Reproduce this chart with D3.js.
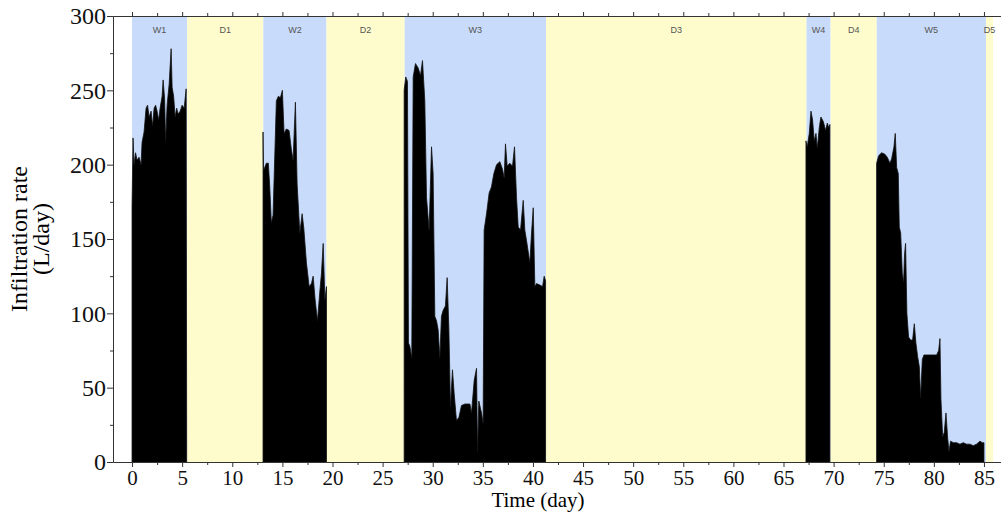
<!DOCTYPE html>
<html>
<head>
<meta charset="utf-8">
<script src="https://cdn.jsdelivr.net/npm/d3@7"></script>
<style>
  body { margin: 0; background: #fff; }
  svg { display: block; }
</style>
</head>
<body>
<svg id="chart" width="1001" height="518"></svg>
<script>
(function() {

    // wet / dry periods (days)
    var periodNames = ["W1", "D1", "W2", "D2", "W3", "D3", "W4", "D4", "W5", "D5"];
    var periodStart = [0, 5.5, 13.1, 19.4, 27.2, 41.3, 67.3, 69.7, 74.3, 85.2];
    var periodEnd   = [5.5, 13.1, 19.4, 27.2, 41.3, 67.3, 69.7, 74.3, 85.2, 85.9];

    // infiltration rate (L/day), [day, rate]
    var w1 = [[0.0,172],[0.1,218],[0.2,200],[0.35,208],[0.5,203],[0.7,205],[0.9,200],[1.0,215],
              [1.2,222],[1.4,238],[1.55,240],[1.7,232],[1.9,236],[2.05,226],[2.2,238],[2.35,240],
              [2.5,236],[2.65,230],[2.8,238],[3.0,246],[3.1,257],[3.25,244],[3.35,216],[3.5,240],
              [3.7,254],[3.9,278],[4.0,252],[4.15,246],[4.3,232],[4.45,238],[4.6,234],[4.8,236],
              [5.0,240],[5.2,238],[5.4,251],[5.45,13]];
    var w2 = [[13.07,222],[13.12,196],[13.4,201],[13.6,201],[13.74,185],[13.9,161],[14.07,166],
              [14.4,243],[14.6,246],[14.8,245],[15.0,250],[15.17,221],[15.4,224],[15.67,223],
              [15.9,210],[16.07,203],[16.3,242],[16.47,187],[16.74,154],[16.97,167],[17.14,157],
              [17.4,134],[17.67,118],[17.9,120],[18.07,125],[18.27,109],[18.5,95],[18.74,115],
              [18.9,127],[19.07,147],[19.24,109],[19.4,118]];
    var w3 = [[27.15,250],[27.31,259],[27.48,256],[27.58,80],[27.71,78],[27.91,70],[28.05,259],
              [28.28,268],[28.55,265],[28.78,260],[28.98,270],[29.21,243],[29.38,178],[29.64,156],
              [29.88,212],[30.04,194],[30.21,98],[30.38,95],[30.54,89],[30.71,70],[30.87,98],
              [31.04,102],[31.27,105],[31.44,124],[31.61,90],[31.77,37],[31.97,62],[32.14,46],
              [32.37,28],[32.61,30],[32.87,38],[33.21,39],[33.71,39],[33.87,33],[34.14,55],
              [34.37,63],[34.47,7],[34.6,41],[34.87,33],[35.03,26],[35.13,156],[35.37,167],
              [35.63,181],[35.86,185],[36.1,194],[36.37,200],[36.7,202],[36.96,197],[37.13,191],
              [37.26,214],[37.43,199],[37.69,201],[37.96,199],[38.16,212],[38.36,178],[38.53,158],
              [38.76,156],[39.03,176],[39.19,156],[39.36,149],[39.69,134],[39.86,154],[40.03,171],
              [40.19,118],[40.36,120],[40.69,119],[40.96,118],[41.12,125],[41.26,122]];
    var w4 = [[67.24,216],[67.37,212],[67.57,221],[67.74,236],[67.9,230],[68.07,216],[68.24,221],
              [68.37,211],[68.57,225],[68.73,232],[68.97,229],[69.2,223],[69.37,228],[69.5,225],
              [69.63,227]];
    var w5 = [[74.29,201],[74.49,206],[74.79,208],[75.12,207],[75.35,205],[75.62,201],[75.79,204],
              [76.02,212],[76.15,221],[76.29,198],[76.45,194],[76.55,158],[76.69,154],[76.85,127],
              [76.98,121],[77.08,140],[77.18,147],[77.31,100],[77.48,84],[77.68,82],[77.88,82],
              [78.05,93],[78.21,80],[78.38,71],[78.55,64],[78.68,43],[78.85,69],[79.01,72],
              [79.28,72],[79.61,72],[79.95,72],[80.28,72],[80.48,75],[80.61,83],[80.71,42],
              [80.88,17],[81.04,20],[81.21,33],[81.38,16],[81.51,7],[81.67,14],[81.94,13],
              [82.27,13],[82.6,12],[82.93,13],[83.27,12],[83.6,12],[83.93,11],[84.26,12],
              [84.6,14],[84.83,13],[85.0,13]];
    var wetSeries = [w1, w2, w3, w4, w5];

    var xMajor = d3.range(0, 86, 5);
    var xMinor = d3.range(2.5, 86, 5);
    var yMajor = [0, 50, 100, 150, 200, 250, 300];
    var yMinor = [25, 75, 125, 175, 225, 275];

    var svg = d3.select("#chart");

    var x = d3.scaleLinear().domain([-1.9, 86.7]).range([113, 1001]);
    var y = d3.scaleLinear().domain([0, 300]).range([462, 16]);

    // background bands
    svg.append("g").selectAll("rect")
        .data(periodNames)
        .join("rect")
        .attr("x", function(d, i) { return x(periodStart[i]); })
        .attr("y", y(300))
        .attr("width", function(d, i) { return x(periodEnd[i]) - x(periodStart[i]); })
        .attr("height", y(0) - y(300))
        .attr("fill", function(d) { return d[0] == "W" ? "#c8dbfa" : "#fefccd"; });

    svg.append("g").selectAll("text")
        .data(periodNames)
        .join("text")
        .attr("x", function(d, i) { return (x(periodStart[i]) + x(periodEnd[i])) / 2; })
        .attr("y", 33)
        .attr("text-anchor", "middle")
        .style("font-family", "Arial, 'Liberation Sans', sans-serif")
        .style("font-size", "9px")
        .style("fill", "#555")
        .text(function(d) { return d; });

    // black infiltration areas
    var area = d3.area()
        .x(function(d) { return x(d[0]); })
        .y0(y(0))
        .y1(function(d) { return y(d[1]); });

    svg.append("g").selectAll("path")
        .data(wetSeries)
        .join("path")
        .attr("d", function(d) {
            // close down to zero at both ends of each wet period
            var pts = [[d[0][0], 0]].concat(d, [[d[d.length - 1][0], 0]]);
            return area(pts);
        })
        .attr("fill", "#000")
        .attr("stroke", "#111")
        .attr("stroke-width", 0.8);

    // axes
    var font = "'Liberation Serif', 'Times New Roman', serif";

    var yAxis = svg.append("g")
        .attr("transform", "translate(113,0)")
        .call(d3.axisLeft(y).tickValues(yMajor).tickSize(6).tickPadding(1));
    svg.append("g")
        .attr("transform", "translate(113,0)")
        .call(d3.axisLeft(y).tickValues(yMinor).tickSize(3).tickFormat(""))
        .select(".domain").remove();
    yAxis.selectAll("text").style("font-family", font).style("font-size", "24px").attr("fill", "#111");

    var xAxis = svg.append("g")
        .attr("transform", "translate(0,462)")
        .call(d3.axisBottom(x).tickValues(xMajor).tickSize(5).tickPadding(3).tickSizeOuter(0));
    svg.append("g")
        .attr("transform", "translate(0,462)")
        .call(d3.axisBottom(x).tickValues(xMinor).tickSize(3).tickFormat(""))
        .select(".domain").remove();
    xAxis.selectAll("text").style("font-family", font).style("font-size", "21px").attr("fill", "#111");

    svg.append("g")
        .attr("transform", "translate(0,16)")
        .call(d3.axisTop(x).tickValues(xMajor).tickSize(4).tickFormat("").tickSizeOuter(0));
    svg.append("g")
        .attr("transform", "translate(0,16)")
        .call(d3.axisTop(x).tickValues(xMinor).tickSize(3).tickFormat(""))
        .select(".domain").remove();

    svg.selectAll(".domain, .tick line").attr("stroke", "#333");

    // titles
    svg.append("text")
        .attr("x", 538)
        .attr("y", 507)
        .attr("text-anchor", "middle")
        .style("font-family", font)
        .style("font-size", "21px")
        .text("Time (day)");

    svg.append("text")
        .attr("transform", "translate(27,239) rotate(-90)")
        .attr("text-anchor", "middle")
        .style("font-family", font)
        .style("font-size", "24px")
        .text("Infiltration rate");
    svg.append("text")
        .attr("transform", "translate(49,239) rotate(-90)")
        .attr("text-anchor", "middle")
        .style("font-family", font)
        .style("font-size", "24px")
        .text("(L/day)");

})();
</script>
</body>
</html>
